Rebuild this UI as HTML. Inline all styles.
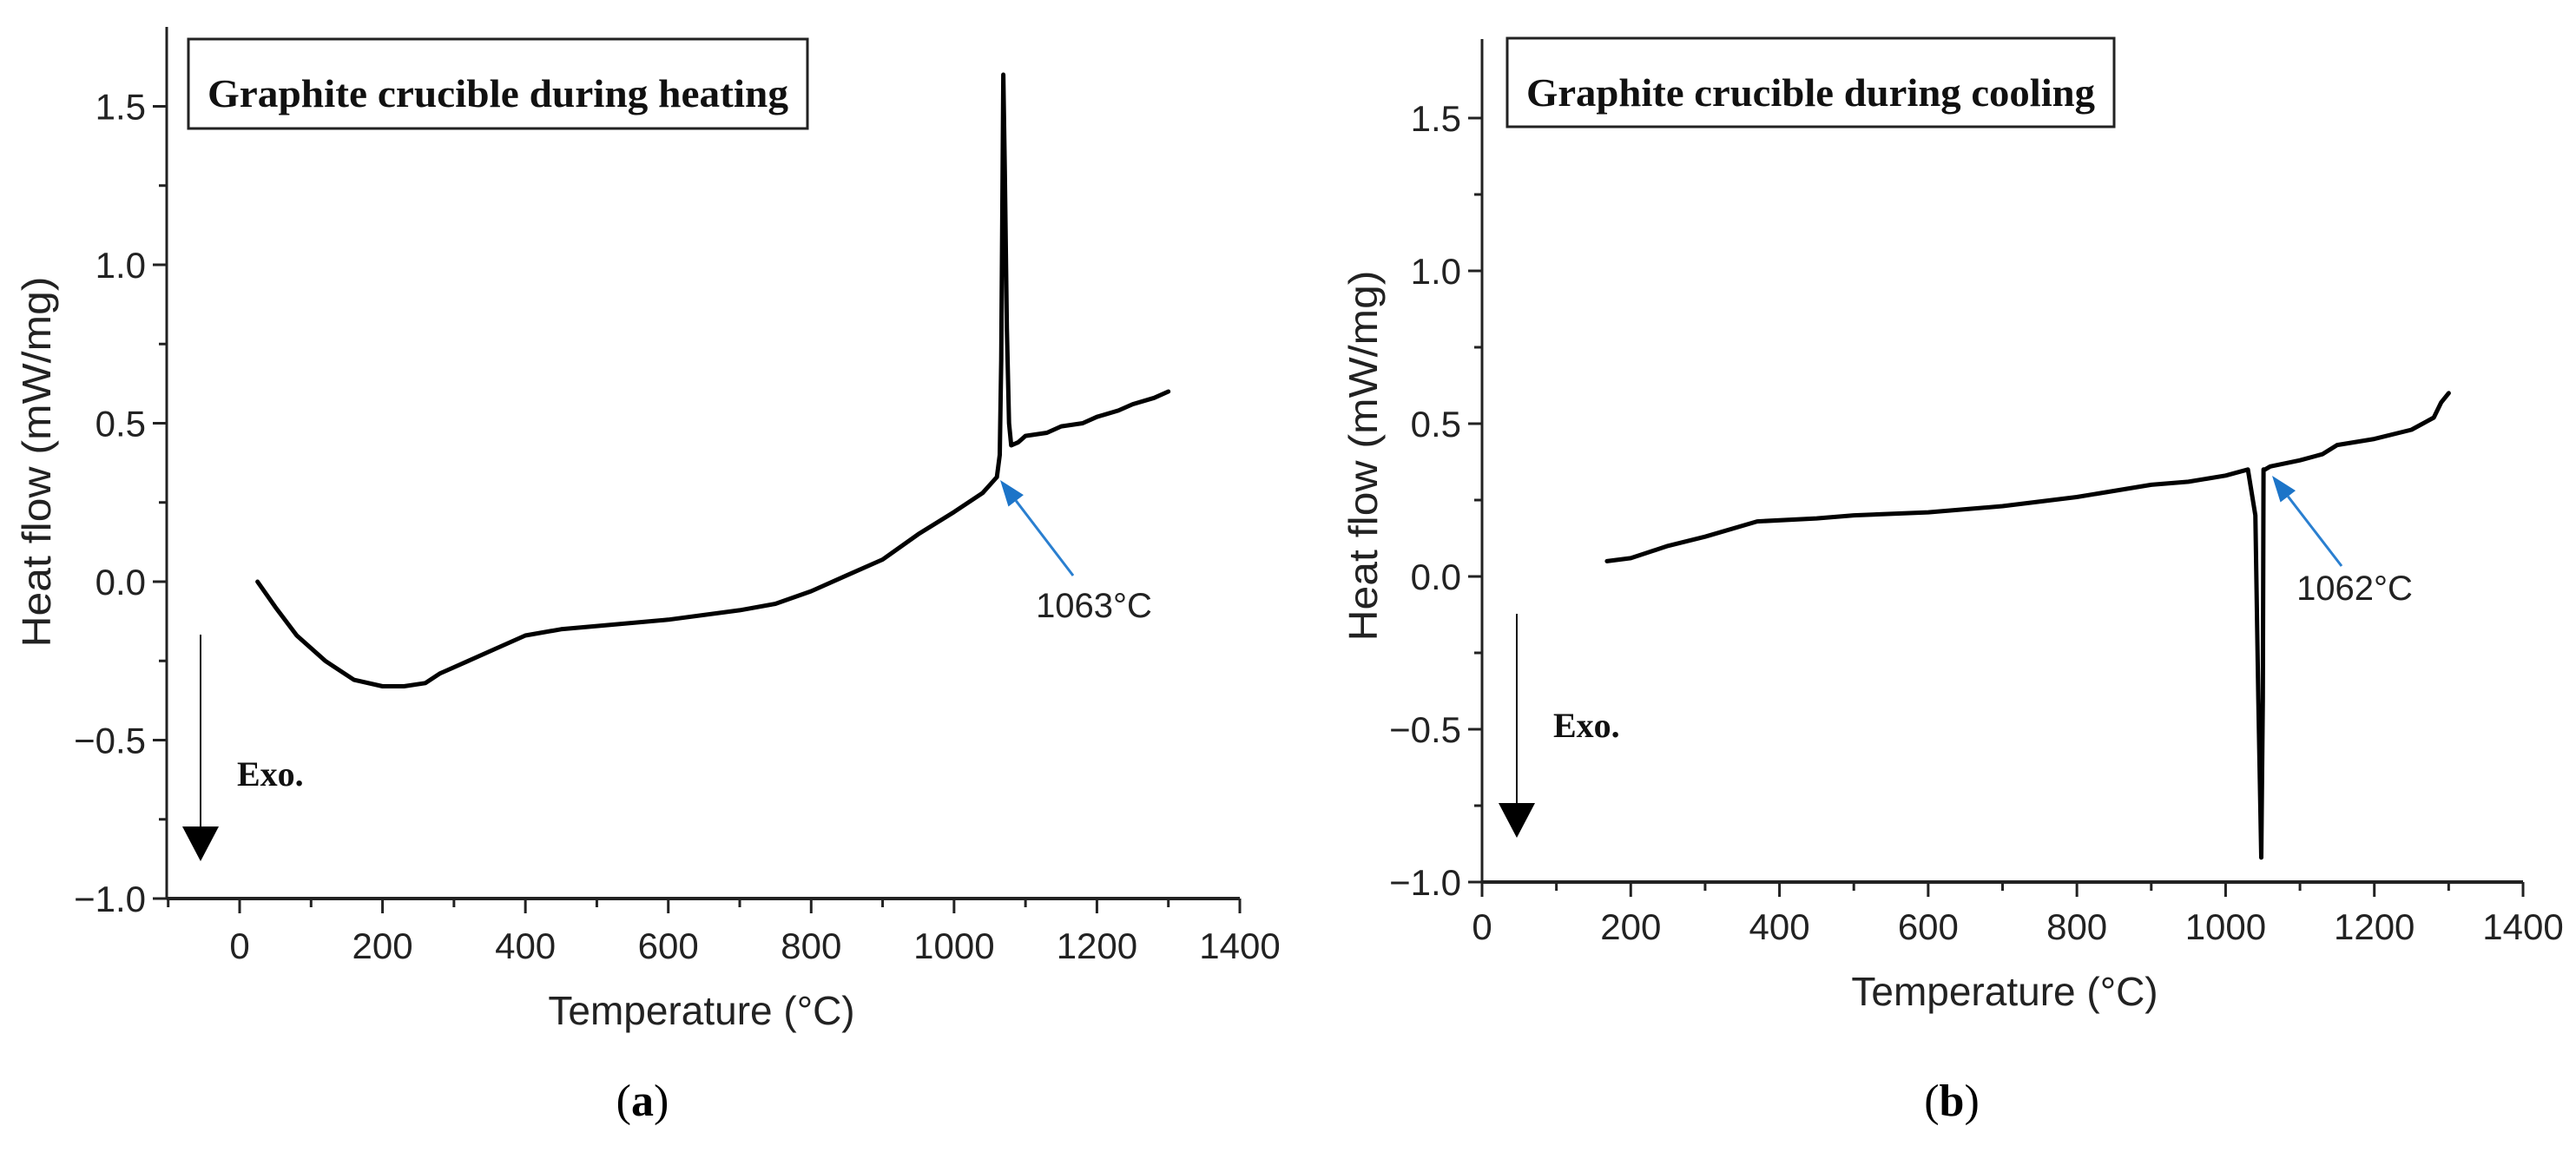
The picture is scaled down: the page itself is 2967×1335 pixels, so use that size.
<!DOCTYPE html>
<html><head><meta charset="utf-8"><style>
html,body{margin:0;padding:0;background:#fff}
svg{display:block}
.tk{font-family:"Liberation Sans Narrow","Liberation Sans",sans-serif;font-size:42px;fill:#222}
.ax{font-family:"Liberation Sans",sans-serif;font-size:46px;fill:#222}
.bx{font-family:"Liberation Serif",serif;font-size:46px;font-weight:bold;fill:#111}
</style></head><body>
<svg id="fig" width="2967" height="1335" viewBox="0 0 2967 1335" xmlns="http://www.w3.org/2000/svg">
<text x="740" y="1285" font-family="Liberation Serif,serif" font-size="52" text-anchor="middle">(<tspan font-weight="bold">a</tspan>)</text>
<text x="2248" y="1285" font-family="Liberation Serif,serif" font-size="52" text-anchor="middle">(<tspan font-weight="bold">b</tspan>)</text>
</svg>
<script>
// Panel (a): heating
const heatT = [25,50,80,120,160,200,230,260,280,320,360,400,450,500,600,700,750,800,850,900,950,1000,1040,1060,1064,1066,1068,1069,1071,1074,1077,1080,1090,1100,1130,1150,1180,1200,1230,1250,1280,1300];
const heatQ = [0.0,-0.08,-0.17,-0.25,-0.31,-0.33,-0.33,-0.32,-0.29,-0.25,-0.21,-0.17,-0.15,-0.14,-0.12,-0.09,-0.07,-0.03,0.02,0.07,0.15,0.22,0.28,0.33,0.40,0.7,1.3,1.6,1.3,0.8,0.5,0.43,0.44,0.46,0.47,0.49,0.50,0.52,0.54,0.56,0.58,0.60];
// Panel (b): cooling
const coolT = [168,200,250,300,370,450,500,600,700,800,900,950,1000,1030,1040,1044,1048,1050,1051,1053,1060,1100,1130,1150,1200,1250,1280,1290,1300];
const coolQ = [0.05,0.06,0.10,0.13,0.18,0.19,0.20,0.21,0.23,0.26,0.30,0.31,0.33,0.35,0.2,-0.4,-0.92,-0.4,0.35,0.35,0.36,0.38,0.40,0.43,0.45,0.48,0.52,0.57,0.60];
const xTicks = [0,200,400,600,800,1000,1200,1400];
const yTicks = [-1.0,-0.5,0.0,0.5,1.0,1.5];
const yTickLabels = ["\u22121.0","\u22120.5","0.0","0.5","1.0","1.5"];

const NS="http://www.w3.org/2000/svg";
const svg=document.getElementById('fig');
function mk(tag,attrs,parent){const e=document.createElementNS(NS,tag);for(const k in attrs)e.setAttribute(k,attrs[k]);(parent||svg).appendChild(e);return e;}

function panel(p){
  const g=mk('g',{});
  
  
  const X=v=>p.x0+(v-0)*(p.x1400-p.x0)/1400;
  const Y=v=>p.y0-v*p.ys;
  const yBot=Y(-1), yTop=p.top;
  const xl=p.axX, xr=X(1400);
  // axes
  const ya=mk('line',{x1:xl,y1:yTop,x2:xl,y2:yBot,stroke:'#222','stroke-width':3},g);
  
  const xa=mk('line',{x1:xl,y1:yBot,x2:xr,y2:yBot,stroke:'#222','stroke-width':4},g);
  
  // y ticks
  yTicks.forEach((v,i)=>{
    mk('line',{x1:xl-16,y1:Y(v),x2:xl,y2:Y(v),stroke:'#222','stroke-width':3},g);
    if(i<yTicks.length-1) mk('line',{x1:xl-9,y1:Y(v+0.25),x2:xl,y2:Y(v+0.25),stroke:'#222','stroke-width':3},g);
    const t=mk('text',{x:xl-24,y:Y(v)+15,'text-anchor':'end',class:'tk'},g);
    t.textContent=yTickLabels[i];
    
    
  });
  // x ticks
  xTicks.forEach((v,i)=>{
    mk('line',{x1:X(v),y1:yBot,x2:X(v),y2:yBot+17,stroke:'#222','stroke-width':3},g);
    if(i<xTicks.length-1) mk('line',{x1:X(v+100),y1:yBot,x2:X(v+100),y2:yBot+10,stroke:'#222','stroke-width':3},g);
    const t=mk('text',{x:X(v),y:p.xtY,'text-anchor':'middle',class:'tk'},g);
    t.textContent=v;
    
    
  });
  if(p.minus100) mk('line',{x1:X(-100),y1:yBot,x2:X(-100),y2:yBot+10,stroke:'#222','stroke-width':3},g);
  // axis titles
  const xt=mk('text',{x:p.xtitleX,y:p.xtitleY,'text-anchor':'middle',class:'ax'},g);
  xt.textContent='Temperature (\u00B0C)';
  
  const yt=mk('text',{x:0,y:0,'text-anchor':'middle',class:'ax',transform:`translate(${p.ytitleX},${p.ytitleY}) rotate(-90)`,textLength:427,lengthAdjust:'spacingAndGlyphs'},g);
  yt.textContent='Heat flow (mW/mg)';
  
  // title box
  const r=mk('rect',{x:p.box[0],y:p.box[1],width:p.box[2]-p.box[0],height:p.box[3]-p.box[1],fill:'#fff',stroke:'#222','stroke-width':3},g);
  
  const bt=mk('text',{x:p.box[0]+22,y:p.box[1]+78,class:'bx',textLength:p.box[2]-p.box[0]-44,lengthAdjust:'spacingAndGlyphs'},g);
  bt.textContent=p.title;
  
  // curve
  const d=p.T.map((t,i)=>(i?'L':'M')+X(t).toFixed(1)+','+Y(p.Q[i]).toFixed(1)).join(' ');
  const c=mk('path',{d:d,fill:'none',stroke:'#000','stroke-width':5,'stroke-linejoin':'round','stroke-linecap':'round'},g);
  
  // annotation arrow
  const a=p.arrow;
  const ang=Math.atan2(a[1]-a[3],a[0]-a[2]);
  const hx=a[0]-30*Math.cos(ang), hy=a[1]-30*Math.sin(ang);
  mk('line',{x1:a[2],y1:a[3],x2:hx,y2:hy,stroke:'#2a7fd0','stroke-width':3},g);
  const px=-Math.sin(ang)*11, py=Math.cos(ang)*11;
  const ah=mk('polygon',{points:`${a[0]},${a[1]} ${hx+px},${hy+py} ${hx-px},${hy-py}`,fill:'#1c74c8'},g);
  
  const at=mk('text',{x:p.lbl[0],y:p.lbl[1],'text-anchor':'middle','font-family':'Liberation Sans Narrow,Liberation Sans,sans-serif','font-size':40,fill:'#222'},g);
  at.textContent=p.lblText;
  
  // exo arrow
  const e=p.exo;
  mk('line',{x1:e[0],y1:e[1],x2:e[0],y2:e[2]-30,stroke:'#111','stroke-width':2},g);
  const eh=mk('polygon',{points:`${e[0]-21},${e[2]-40} ${e[0]+21},${e[2]-40} ${e[0]},${e[2]}`,fill:'#000'},g);
  
  const et=mk('text',{x:e[0]+42,y:e[3],'font-family':'Liberation Serif,serif','font-size':40,'font-weight':'bold',fill:'#111'},g);
  et.textContent='Exo.';
  
}

panel({name:'heating-chart',x0:276,x1400:1428,axX:192,y0:670,ys:365,top:31,xtY:1104,minus100:true,
  xtitleX:808,xtitleY:1180,ytitleX:58,ytitleY:532,box:[217,45,930,148],title:'Graphite crucible during heating',
  T:heatT,Q:heatQ,arrow:[1152,553,1236,663],lbl:[1260,711],lblText:'1063\u00B0C',exo:[231,731,992,905]});
panel({name:'cooling-chart',x0:1707,x1400:2906,axX:1707,y0:664,ys:352,top:45,xtY:1082,minus100:false,
  xtitleX:2309,xtitleY:1158,ytitleX:1586,ytitleY:525,box:[1736,44,2435,146],title:'Graphite crucible during cooling',
  T:coolT,Q:coolQ,arrow:[2617,548,2697,652],lbl:[2712,691],lblText:'1062\u00B0C',exo:[1747,707,965,849]});
</script>
</body></html>
